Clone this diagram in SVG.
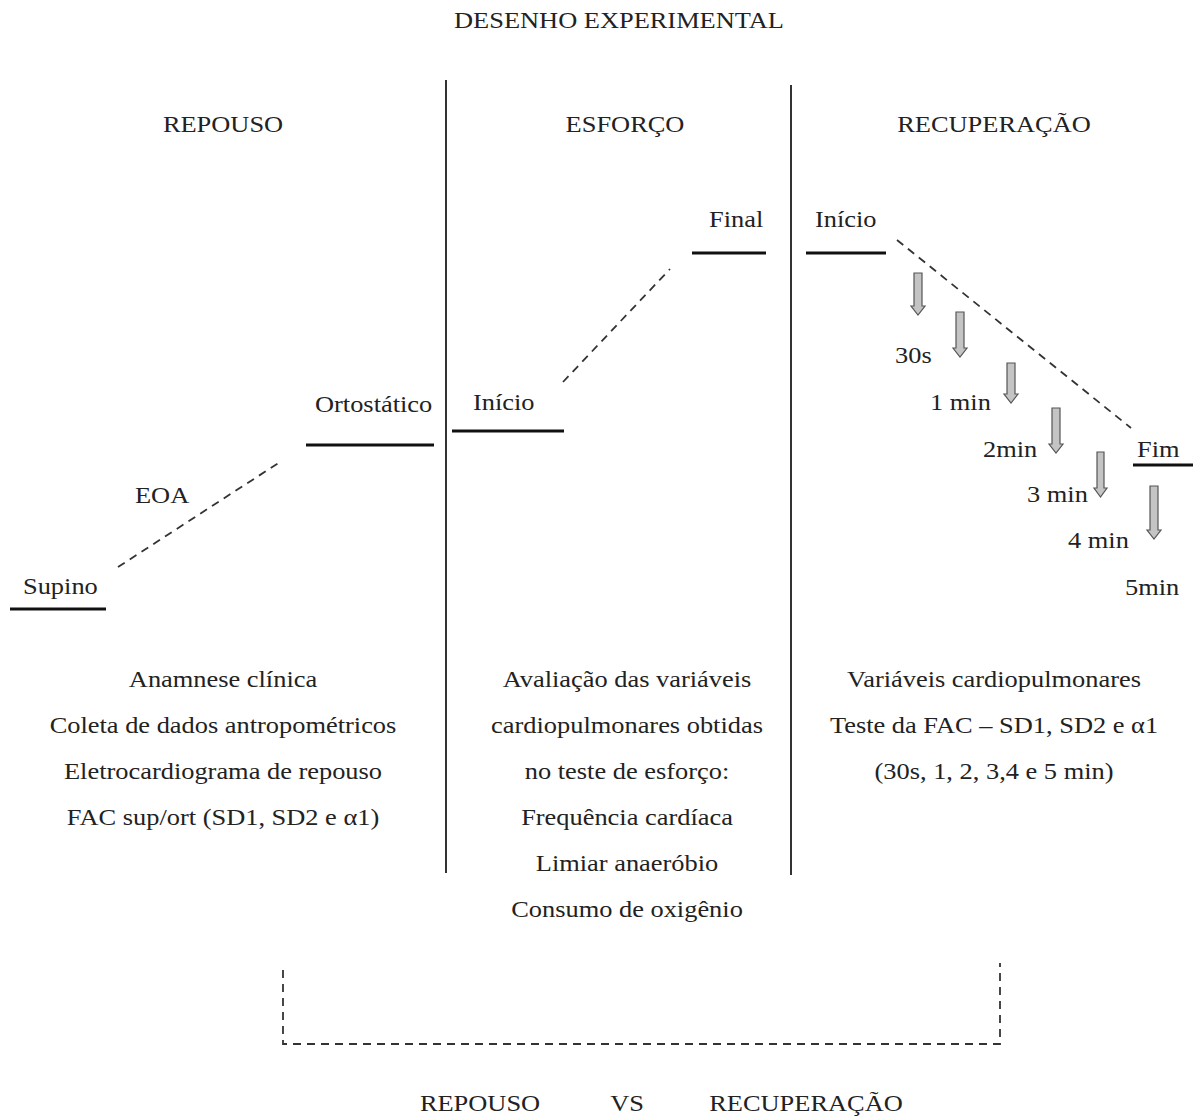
<svg xmlns="http://www.w3.org/2000/svg" width="1198" height="1118" viewBox="0 0 1198 1118">
<style>
text{font-family:"Liberation Serif","Times New Roman",serif;font-size:24px;fill:#222}
.c{text-anchor:middle}
.lvl{stroke:#111;stroke-width:3;fill:none}
.div{stroke:#333;stroke-width:2;fill:none}
.dash{stroke:#333;stroke-width:1.8;stroke-dasharray:8 6;fill:none}
.arr{fill:#c4c4c4;stroke:#555;stroke-width:1.2}
</style>
<rect width="1198" height="1118" fill="#fff"/>
<g id="title"><text class="c" transform="translate(619,28) scale(1.1,1)">DESENHO EXPERIMENTAL</text></g>
<g id="dividers">
<line class="div" x1="446" y1="80" x2="446" y2="873"/>
<line class="div" x1="791" y1="85" x2="791" y2="875"/>
</g>
<g id="headers">
<text class="c" transform="translate(223,132) scale(1.1,1)">REPOUSO</text>
<text class="c" transform="translate(625,132) scale(1.1,1)">ESFORÇO</text>
<text class="c" transform="translate(994,132) scale(1.1,1)">RECUPERAÇÃO</text>
</g>
<g id="connectors">
<line class="dash" x1="118" y1="567" x2="280" y2="462"/>
<line class="dash" x1="563" y1="382" x2="670" y2="269"/>
<line class="dash" x1="897" y1="240" x2="1131" y2="428"/>
<path class="dash" d="M283 970 V1044 H1000 V963"/>
</g>
<g id="supino"><text transform="translate(23,594) scale(1.1,1)">Supino</text><line class="lvl" x1="10" y1="609" x2="106" y2="609"/></g>
<g id="eoa"><text transform="translate(135,503) scale(1.1,1)">EOA</text></g>
<g id="ortostatico"><text transform="translate(315,412) scale(1.1,1)">Ortostático</text><line class="lvl" x1="306" y1="445" x2="434" y2="445"/></g>
<g id="esforco-inicio"><text transform="translate(473,410) scale(1.1,1)">Início</text><line class="lvl" x1="452" y1="431" x2="564" y2="431"/></g>
<g id="esforco-final"><text transform="translate(709,227) scale(1.1,1)">Final</text><line class="lvl" x1="692" y1="253" x2="766" y2="253"/></g>
<g id="recup-inicio"><text transform="translate(815,227) scale(1.1,1)">Início</text><line class="lvl" x1="806" y1="253" x2="886" y2="253"/></g>
<g id="recup-fim"><text transform="translate(1137,457) scale(1.1,1)">Fim</text><line class="lvl" x1="1133" y1="465" x2="1193" y2="465"/></g>
<g id="arrows">
<path class="arr" d="M914 273 H922 V306 H925 L918 315 L911 306 H914 Z"/>
<path class="arr" d="M956 312 H964 V348 H967 L960 357 L953 348 H956 Z"/>
<path class="arr" d="M1007 363 H1015 V394 H1018 L1011 403 L1004 394 H1007 Z"/>
<path class="arr" d="M1052 408 H1060 V444 H1063 L1056 453 L1049 444 H1052 Z"/>
<path class="arr" d="M1097 452 H1104 V488 H1107 L1100.5 497 L1094 488 H1097 Z"/>
<path class="arr" d="M1150 486 H1158 V530 H1161 L1154 539 L1147 530 H1150 Z"/>
</g>
<g id="times">
<text transform="translate(895,363) scale(1.1,1)">30s</text>
<text transform="translate(930,410) scale(1.1,1)">1 min</text>
<text transform="translate(983,457) scale(1.1,1)">2min</text>
<text transform="translate(1027,502) scale(1.1,1)">3 min</text>
<text transform="translate(1068,548) scale(1.1,1)">4 min</text>
<text transform="translate(1125,595) scale(1.1,1)">5min</text>
</g>
<g id="repouso-desc">
<text class="c" transform="translate(223,687) scale(1.1,1)">Anamnese clínica</text>
<text class="c" transform="translate(223,733) scale(1.1,1)">Coleta de dados antropométricos</text>
<text class="c" transform="translate(223,779) scale(1.1,1)">Eletrocardiograma de repouso</text>
<text class="c" transform="translate(223,825) scale(1.1,1)">FAC sup/ort (SD1, SD2 e α1)</text>
</g>
<g id="esforco-desc">
<text class="c" transform="translate(627,687) scale(1.1,1)">Avaliação das variáveis</text>
<text class="c" transform="translate(627,733) scale(1.1,1)">cardiopulmonares obtidas</text>
<text class="c" transform="translate(627,779) scale(1.1,1)">no teste de esforço:</text>
<text class="c" transform="translate(627,825) scale(1.1,1)">Frequência cardíaca</text>
<text class="c" transform="translate(627,871) scale(1.1,1)">Limiar anaeróbio</text>
<text class="c" transform="translate(627,917) scale(1.1,1)">Consumo de oxigênio</text>
</g>
<g id="recup-desc">
<text class="c" transform="translate(994,687) scale(1.1,1)">Variáveis cardiopulmonares</text>
<text class="c" transform="translate(994,733) scale(1.1,1)">Teste da FAC – SD1, SD2 e α1</text>
<text class="c" transform="translate(994,779) scale(1.1,1)">(30s, 1, 2, 3,4 e 5 min)</text>
</g>
<g id="comparison">
<text class="c" transform="translate(480,1111) scale(1.1,1)">REPOUSO</text>
<text class="c" transform="translate(627,1111) scale(1.1,1)">VS</text>
<text class="c" transform="translate(806,1111) scale(1.1,1)">RECUPERAÇÃO</text>
</g>
</svg>
